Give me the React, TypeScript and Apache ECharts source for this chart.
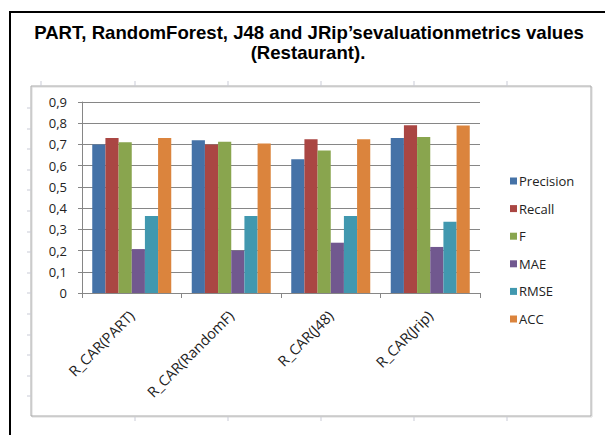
import React, { useEffect, useRef } from "react";
import * as echarts from "echarts";

const categories = ["R_CAR(PART)", "R_CAR(RandomF)", "R_CAR(J48)", "R_CAR(Jrip)"];
const metricNames = ["Precision", "Recall", "F", "MAE", "RMSE", "ACC"];
const precision = [0.70, 0.72, 0.63, 0.73];
const recall = [0.73, 0.70, 0.725, 0.79];
const fMeasure = [0.71, 0.713, 0.671, 0.735];
const mae = [0.207, 0.20, 0.237, 0.217];
const rmse = [0.363, 0.363, 0.363, 0.336];
const acc = [0.73, 0.704, 0.725, 0.789];
const yTicks = [0, 0.1, 0.2, 0.3, 0.4, 0.5, 0.6, 0.7, 0.8, 0.9];

const seriesValues = [precision, recall, fMeasure, mae, rmse, acc];
const palette = ["#4572A7", "#AA4643", "#89A54E", "#71588F", "#4198AF", "#DB843D"];

const titleLine1 = "PART, RandomForest, J48 and JRip\u2019sevaluationmetrics values";
const titleLine2 = "(Restaurant).";

function faintTicks() {
  const els: any[] = [];
  const tickStyle = { stroke: "#c9cbd6", lineWidth: 1 };
  const cols = [41, 135, 228, 321, 414, 507];
  cols.forEach((x) => {
    els.push({ type: "line", shape: { x1: x, y1: 81, x2: x, y2: 86 }, style: tickStyle, silent: true });
    if (x > 100) {
      els.push({ type: "line", shape: { x1: x, y1: 417, x2: x, y2: 421 }, style: tickStyle, silent: true });
    }
  });
  for (let y = 108; y < 414; y += 20.6) {
    els.push({ type: "line", shape: { x1: 27, y1: Math.round(y), x2: 31, y2: Math.round(y) }, style: tickStyle, silent: true });
  }
  return els;
}

export default function App() {
  const ref = useRef<HTMLDivElement>(null);

  useEffect(() => {
    if (!ref.current) return;
    const chart = echarts.init(ref.current, undefined, { renderer: "svg" });
    const fontFamily = "'Open Sans', 'DejaVu Sans', sans-serif";
    const titleFont = "bold 18.6px 'Liberation Sans', Arial, sans-serif";

    chart.setOption({
      animation: false,
      backgroundColor: "#ffffff",
      color: palette,
      graphic: [
        // outer document border
        { type: "line", shape: { x1: 10, y1: 11, x2: 10, y2: 435 }, style: { stroke: "#000", lineWidth: 2 }, silent: true },
        { type: "line", shape: { x1: 9, y1: 12, x2: 605, y2: 12 }, style: { stroke: "#000", lineWidth: 2 }, silent: true },
        // chart area frame with soft shadow
        { type: "rect", shape: { x: 32, y: 87, width: 560, height: 330 }, style: { fill: "none", stroke: "#dadada", lineWidth: 1 }, silent: true },
        { type: "rect", shape: { x: 31, y: 86, width: 560, height: 330 }, style: { fill: "none", stroke: "#a9a9a9", lineWidth: 1 }, silent: true },
        ...faintTicks(),
        {
          type: "text",
          x: 309,
          y: 32,
          style: { text: titleLine1, fill: "#000", font: titleFont, textAlign: "center", textVerticalAlign: "middle" },
          silent: true,
        },
        {
          type: "text",
          x: 308,
          y: 52,
          style: { text: titleLine2, fill: "#000", font: titleFont, textAlign: "center", textVerticalAlign: "middle" },
          silent: true,
        },
      ],
      legend: {
        orient: "vertical",
        left: 505,
        top: 169,
        itemWidth: 7,
        itemHeight: 7,
        itemGap: 13.6,
        icon: "rect",
        data: metricNames,
        textStyle: { fontFamily, fontSize: 13, color: "#222", lineHeight: 14, padding: [0, 0, 0, -3] },
      },
      grid: { left: 82, right: 125, top: 102, bottom: 142, containLabel: false },
      xAxis: {
        type: "category",
        data: categories,
        axisLine: { lineStyle: { color: "#868686" } },
        axisTick: { show: true, length: 5, lineStyle: { color: "#868686" } },
        axisLabel: { rotate: 45, interval: 0, margin: 20, fontFamily, fontSize: 14.5, color: "#222" },
      },
      yAxis: {
        type: "value",
        min: yTicks[0],
        max: yTicks[yTicks.length - 1],
        interval: 0.1,
        axisLine: { show: true, lineStyle: { color: "#868686" } },
        axisTick: { show: true, length: 4, lineStyle: { color: "#868686" } },
        splitLine: { lineStyle: { color: "#868686" } },
        axisLabel: {
          margin: 15,
          fontFamily,
          fontSize: 13,
          color: "#222",
          formatter: (v: number) => (v === 0 ? "0" : v.toFixed(1).replace(".", ",")),
        },
      },
      series: metricNames.map((name, i) => ({
        name,
        type: "bar",
        data: seriesValues[i],
        barGap: "0%",
        barCategoryGap: "20.6%",
        itemStyle: { color: palette[i] },
      })),
    });

    return () => chart.dispose();
  }, []);

  return (
    <div
      ref={ref}
      style={{ position: "absolute", left: 0, top: 0, width: 605, height: 435, background: "#fff" }}
    />
  );
}
